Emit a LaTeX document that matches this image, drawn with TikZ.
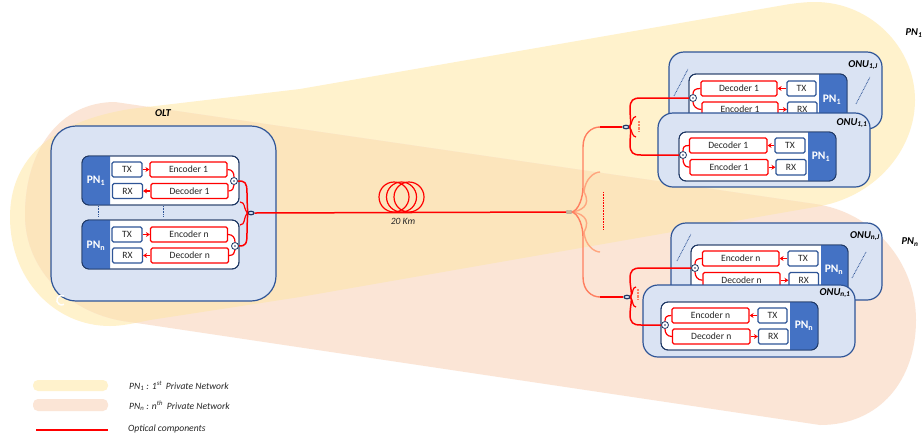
\documentclass[tikz,border=0pt]{standalone}
\usepackage{fontspec}
\setmainfont{Carlito}
\usetikzlibrary{calc,arrows.meta,shapes.geometric}
\definecolor{cyel}{HTML}{FFF2CC}
\definecolor{cpea}{HTML}{FBE5D6}
\definecolor{cmix}{HTML}{FCE5BC}
\definecolor{cbox}{HTML}{DAE3F3}
\definecolor{cedge}{HTML}{2F5597}
\definecolor{cpn}{HTML}{4472C4}
\definecolor{cdark}{HTML}{1F3864}
\definecolor{csal}{HTML}{FF7F60}
\definecolor{csal2}{HTML}{FFA67F}
\definecolor{ctext}{HTML}{262626}
\tikzset{
  outerbox/.style={draw=cedge,fill=cbox,line width=1.2pt,rounded corners=15pt,inner sep=0pt},
  panelbox/.style={draw=cdark,fill=white,line width=0.9pt,rounded corners=7pt,inner sep=0pt},
  txbox/.style={draw=cedge,fill=white,line width=1.2pt,rounded corners=1.5pt,inner sep=0pt,font=\fontsize{9.6}{11}\selectfont,text=ctext},
  codebox/.style={draw=red,fill=white,line width=1.2pt,rounded corners=1.5pt,inner sep=0pt,font=\fontsize{9.6}{11}\selectfont,text=ctext},
  pnlabel/.style={text=white,font=\fontsize{11.5}{13}\selectfont\bfseries,inner sep=0pt},
  caption/.style={font=\fontsize{9.6}{11}\selectfont\itshape,text=ctext,inner sep=0pt},
  title/.style={font=\fontsize{10.5}{12}\selectfont\bfseries\itshape,text=black,inner sep=0pt},
  fiber/.style={draw=red,line width=1.5pt},
  thinfiber/.style={draw=red,line width=1.2pt},
  arrowline/.style={draw=red,line width=1.2pt,-{Stealth[length=4pt,width=5pt]}},
  circ/.style={circle,draw=cdark,fill=white,line width=0.8pt,minimum size=7pt,inner sep=0pt,path picture={\fill[cdark] (path picture bounding box.center) circle (0.9pt);}},
  combiner/.style={ellipse,draw=cdark,fill=cbox,line width=1.2pt,minimum width=6pt,minimum height=3.5pt,inner sep=0pt},
  dotline/.style={draw=cedge,line width=0.8pt,dash pattern=on 0.8pt off 0.8pt},
  reddots/.style={draw=red,line width=0.8pt,dash pattern=on 0.8pt off 0.8pt},
  saldots/.style={draw=csal,line width=1.4pt,dash pattern=on 0.7pt off 0.7pt}
}
\newcommand{\bx}[7]{\node[#1,minimum width={(#5-#3)*1pt},minimum height={(#6-#4)*1pt}] (#2) at ({(#3+#5)/2},{(#4+#6)/2}) {#7};}
% panel: x1 y1 x2 y2 blue-x1 blue-x2 name
\newcommand{\panel}[7]{%
  \bx{panelbox}{#7}{#1}{#2}{#3}{#4}{}
  \begin{scope}
    \clip (#5,#2-1) rectangle (#6,#4+1);
    \fill[cpn,rounded corners=7pt] (#1,#2) rectangle (#3,#4);
  \end{scope}
  \draw[cdark,line width=0.9pt,rounded corners=7pt] (#1,#2) rectangle (#3,#4);
}
\def\yelpath{(10,217) .. controls (10,160) and (50,122) .. (130,109) -- (300,89) -- (790,4) .. controls (798,3) and (806,2) .. (815,2) .. controls (870,2) and (915,47) .. (915,100) .. controls (915,150) and (875,198) .. (815,207) -- (300,297) -- (150,320) .. controls (135,323) and (122,326) .. (110,326) .. controls (55,326) and (10,280) .. (10,217) -- cycle}
\def\peapath{(25,215) .. controls (25,150) and (60,102) .. (115,102) -- (815,204) .. controls (873,212) and (916,262) .. (916,320) .. controls (916,380) and (880,425) .. (820,425) -- (130,322) .. controls (70,315) and (25,270) .. (25,215) -- cycle}
\begin{document}
\begin{tikzpicture}[x=1pt,y=-1pt]
\useasboundingbox (0,0) rectangle (923,437);
\fill[white] (0,0) rectangle (923,437);
\fill[cyel] \yelpath;
\fill[cpea] \peapath;
\begin{scope}
  \clip \yelpath;
  \fill[cmix] \peapath;
\end{scope}
% legend
\node[fill=cyel,rounded corners=5pt,minimum width=75pt,minimum height=11pt,inner sep=0pt] (legA) at (70.5,385.5) {};
\node[fill=cpea,rounded corners=5pt,minimum width=75pt,minimum height=12pt,inner sep=0pt] (legB) at (70.5,405) {};
\coordinate (legCa) at (36,430);
\coordinate (legCb) at (108,430);
\draw[fiber] (legCa) -- (legCb);
\node[caption,anchor=west] (legAt) at (129,386) {PN\textsubscript{1} : 1\textsuperscript{st}\, Private Network};
\node[caption,anchor=west] (legBt) at (129,406) {PN\textsubscript{n} : n\textsuperscript{th}\, Private Network};
\node[caption,anchor=west] (legCt) at (128,429) {Optical components};
% ---- OLT
\bx{outerbox,rounded corners=25pt}{olt}{51}{126}{276}{301}{}
\node[title] (oltt) at (163,113) {OLT};
\draw[white,line width=1.5pt] (64,296) arc (-60:-300:4.8);
\panel{82}{156}{239}{205}{81}{110}{p1}
\panel{82}{220}{239}{269}{81}{110}{pn}
\node[pnlabel] (p1l) at (96,181) {PN\textsubscript{1}};
\node[pnlabel] (pnl) at (96,246) {PN\textsubscript{n}};
\bx{txbox}{tx1}{112}{162}{142}{177}{TX}
\bx{txbox}{rx1}{112.5}{183.5}{142.5}{198.5}{RX}
\bx{codebox}{en1}{150}{162}{227}{177}{Encoder 1}
\bx{codebox}{de1}{151}{183.5}{228}{198.5}{Decoder 1}
\bx{txbox}{txn}{112}{227}{142}{242}{TX}
\bx{txbox}{rxn}{112.5}{248}{142.5}{263}{RX}
\bx{codebox}{enn}{150.5}{227}{227.5}{242}{Encoder n}
\bx{codebox}{den}{151}{248}{228.5}{263}{Decoder n}
\draw[arrowline] (tx1) -- (en1);
\draw[arrowline] (de1) -- (rx1);
\draw[arrowline] (txn) -- (enn);
\draw[arrowline] (den) -- (rxn);
\node[circ] (c1) at (234,181) {};
\node[circ] (cn) at (235,246) {};
\node[combiner] (comb) at (251,213) {};
\draw[thinfiber] (en1.east) .. controls +(5,0) and +(0,-4) .. (c1.north);
\draw[thinfiber] (de1.east) .. controls +(4,0) and +(0,3) .. (c1.south);
\draw[thinfiber] (enn.east) .. controls +(5,0) and +(0,-4) .. (cn.north);
\draw[thinfiber] (den.east) .. controls +(4,0) and +(0,3) .. (cn.south);
\draw[fiber] (c1.east) .. controls +(7,0) and ($(comb)+(-4,-31)$) .. ($(comb)+(-4,-20)$) .. controls ($(comb)+(-4,-8)$) and ($(comb)+(-3,-1)$) .. (comb.west);
\draw[fiber] (cn.east) .. controls +(7,0) and ($(comb)+(-4,31)$) .. ($(comb)+(-4,20)$) .. controls ($(comb)+(-4,8)$) and ($(comb)+(-3,1)$) .. (comb.west);
\coordinate (oa) at (240,202);
\coordinate (ob) at (240,225);
\draw[thinfiber] (oa) .. controls +(6,1) and +(-5,-7) .. (comb.west);
\draw[thinfiber] (ob) .. controls +(6,-1) and +(-5,7) .. (comb.west);
\draw[dotline] (98,206) -- (98,217);
\draw[dotline] (163.5,206) -- (163.5,217);
% ---- feeder
\node[draw=black!35,fill=cmix!80!black,rounded corners=1pt,minimum width=5.5pt,minimum height=3.5pt,inner sep=0pt] (split) at (569,212) {};
\draw[fiber] (comb.east) -- (split.west);
\foreach \cx/\cn in {394/a,401.5/b,409/c}{
  \node[circle,draw=red,line width=1.2pt,minimum size=30pt,inner sep=0pt] (coil\cn) at (\cx,197) {};
}
\node[caption] (km) at (403,221) {20 Km};
% ---- splitter branches
\node[combiner] (combA) at (626,127) {};
\node[combiner] (combB) at (627,297) {};
\coordinate (midA) at (600,172);
\coordinate (midB) at (600,252);
\coordinate (outA) at (600,127);
\coordinate (outB) at (600,297);
\draw[csal2,line width=1.4pt] (split.east) .. controls +(8,-1) and +(8,14) .. ($(midA)+(-16,20)$) .. controls +(1,-13) and +(-6,0) .. (midA);
\draw[csal2,line width=1.4pt] (split.east) .. controls +(8,1) and +(8,-14) .. ($(midB)+(-16,-20)$) .. controls +(1,13) and +(-6,0) .. (midB);
\draw[csal,line width=1.4pt] (split.east) .. controls +(7,-2) and +(0,10) .. ($(outA)+(-17,60)$) -- ($(outA)+(-17,20)$) .. controls +(0,-14) and +(-8,0) .. (outA);
\draw[csal,line width=1.4pt] (split.east) .. controls +(7,2) and +(0,-10) .. ($(outB)+(-17,-60)$) -- ($(outB)+(-17,-20)$) .. controls +(0,14) and +(-8,0) .. (outB);
\draw[reddots] (603,192) -- (603,230);
\draw[fiber] (outA) -- (combA.west);
\draw[fiber] (outB) -- (combB.west);
% ---- ONU 1,J
\bx{outerbox}{oa1}{669}{52}{882}{129}{}
\node[title] (oa1t) at (863,65) {ONU\textsubscript{1,J}};
\panel{689}{74}{847}{125}{819}{848}{pa1}
\node[pnlabel] (pa1l) at (832,100) {PN\textsubscript{1}};
\bx{codebox}{oa1d}{701}{81}{777}{96}{Decoder 1}
\bx{txbox}{oa1tx}{787}{81}{816}{96}{TX}
\bx{codebox}{oa1e}{702}{102}{778}{117}{Encoder 1}
\bx{txbox}{oa1rx}{787.5}{102}{817}{117}{RX}
\draw[arrowline] (oa1tx) -- (oa1d);
\draw[arrowline] (oa1e) -- (oa1rx);
\draw[dotline] (674,96) -- (688,69);
\draw[dotline] (856,104) -- (870,77);
\node[circ] (ca1) at (693,98) {};
\draw[thinfiber] (oa1d.west) .. controls +(-5,0) and +(0,-4) .. (ca1.north);
\draw[thinfiber] (oa1e.west) .. controls +(-5,0) and +(0,4) .. (ca1.south);
% ---- ONU 1,1
\bx{outerbox}{ob1}{658}{113}{870}{187}{}
\node[title] (ob1t) at (852,123) {ONU\textsubscript{1,1}};
\panel{679}{132}{836}{181}{808}{837}{pb1}
\node[pnlabel] (pb1l) at (821,157) {PN\textsubscript{1}};
\bx{codebox}{ob1d}{689.5}{138}{767}{153}{Decoder 1}
\bx{txbox}{ob1tx}{775}{138}{805}{153}{TX}
\bx{codebox}{ob1e}{690}{159.5}{768}{175}{Encoder 1}
\bx{txbox}{ob1rx}{776}{159.5}{806}{175}{RX}
\draw[arrowline] (ob1tx) -- (ob1d);
\draw[arrowline] (ob1e) -- (ob1rx);
\node[circ] (cb1) at (683,155) {};
\draw[thinfiber] (ob1d.west) .. controls +(-5,0) and +(0,-4) .. (cb1.north);
\draw[thinfiber] (ob1e.west) .. controls +(-5,0) and +(0,4) .. (cb1.south);
\draw[fiber] (combA.east) .. controls +(2,-2) and ($(ca1)+(-63,18)$) .. ($(ca1)+(-63,11)$) .. controls ($(ca1)+(-63,2)$) and ($(ca1)+(-60,0)$) .. ($(ca1)+(-52,0)$) -- (ca1.west);
\draw[fiber] (combA.east) .. controls +(2,2) and ($(cb1)+(-53,-18)$) .. ($(cb1)+(-53,-11)$) .. controls ($(cb1)+(-53,-2)$) and ($(cb1)+(-50,0)$) .. ($(cb1)+(-42,0)$) -- (cb1.west);
\coordinate (sa) at (636,116.5);
\coordinate (sb) at (636,137);
\draw[thinfiber] (sa) .. controls +(-4,0.5) and +(3,-5) .. (combA.east);
\draw[thinfiber] (sb) .. controls +(-4,-0.5) and +(3,5) .. (combA.east);
\draw[saldots] (639,121) -- (639,132);
% ---- ONU n,J
\bx{outerbox}{oan}{671}{223}{882}{300}{}
\node[title] (oant) at (865,236) {ONU\textsubscript{n,J}};
\panel{691}{245}{848}{296}{821}{849}{pan}
\node[pnlabel] (panl) at (834,270) {PN\textsubscript{n}};
\bx{codebox}{oane}{702.5}{251}{779}{266}{Encoder n}
\bx{txbox}{oantx}{788}{251}{818}{266}{TX}
\bx{codebox}{oand}{703}{272.5}{780}{288}{Decoder n}
\bx{txbox}{oanrx}{789}{272.5}{818.5}{288}{RX}
\draw[arrowline] (oantx) -- (oane);
\draw[arrowline] (oand) -- (oanrx);
\draw[dotline] (677,261) -- (691,234);
\draw[dotline] (852,278) -- (866,252);
\node[circ] (can) at (695,268) {};
\draw[thinfiber] (oane.west) .. controls +(-5,0) and +(0,-4) .. (can.north);
\draw[thinfiber] (oand.west) .. controls +(-5,0) and +(0,4) .. (can.south);
% ---- ONU n,1
\bx{outerbox}{obn}{643}{285}{855}{357}{}
\node[title] (obnt) at (835,293) {ONU\textsubscript{n,1}};
\panel{661}{302}{818}{350}{790}{819}{pbn}
\node[pnlabel] (pbnl) at (804,326) {PN\textsubscript{n}};
\bx{codebox}{obne}{672}{308}{749}{323}{Encoder n}
\bx{txbox}{obntx}{758}{308}{787}{323}{TX}
\bx{codebox}{obnd}{672.5}{329}{750}{344}{Decoder n}
\bx{txbox}{obnrx}{758.5}{329}{788}{344}{RX}
\draw[arrowline] (obntx) -- (obne);
\draw[arrowline] (obnd) -- (obnrx);
\node[circ] (cbn) at (665,325) {};
\draw[thinfiber] (obne.west) .. controls +(-5,0) and +(0,-4) .. (cbn.north);
\draw[thinfiber] (obnd.west) .. controls +(-5,0) and +(0,4) .. (cbn.south);
\draw[fiber] (combB.east) .. controls +(2,-2) and ($(can)+(-65,18)$) .. ($(can)+(-65,11)$) .. controls ($(can)+(-65,2)$) and ($(can)+(-62,0)$) .. ($(can)+(-54,0)$) -- (can.west);
\draw[fiber] (combB.east) .. controls +(2,2) and ($(cbn)+(-35,-18)$) .. ($(cbn)+(-35,-11)$) .. controls ($(cbn)+(-35,-2)$) and ($(cbn)+(-32,0)$) .. ($(cbn)+(-24,0)$) -- (cbn.west);
\coordinate (sc) at (636,287);
\coordinate (sd) at (636,307);
\draw[thinfiber] (sc) .. controls +(-4,0.5) and +(3,-5) .. (combB.east);
\draw[thinfiber] (sd) .. controls +(-4,-0.5) and +(3,5) .. (combB.east);
\draw[saldots] (638,289) -- (638,300);
% outer labels
\node[title] (lab1) at (914,33) {PN\textsubscript{1}};
\node[title] (labn) at (910,242) {PN\textsubscript{n}};
\end{tikzpicture}
\end{document}
